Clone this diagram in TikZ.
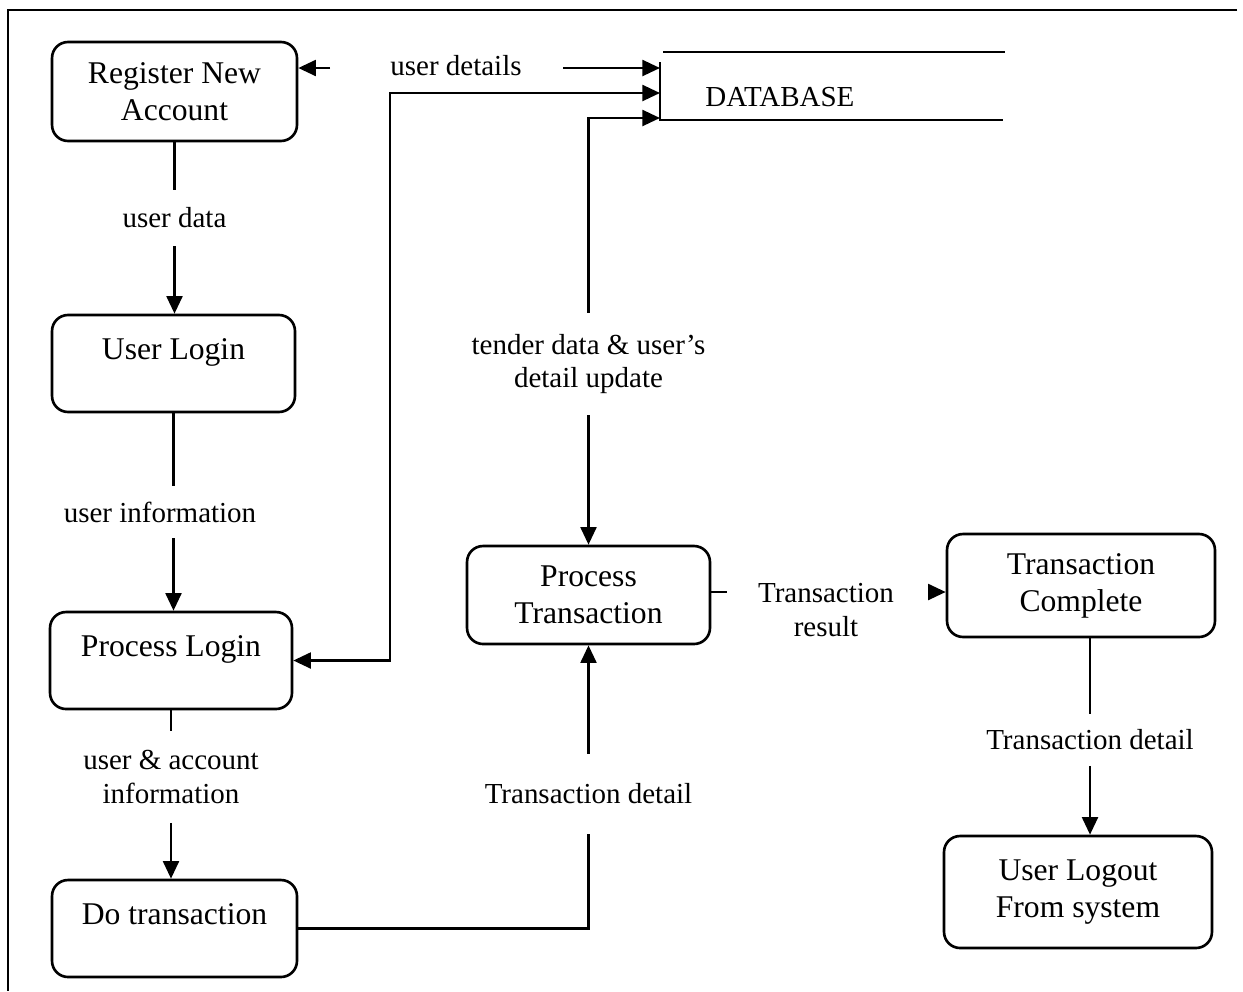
\documentclass[tikz,border=0pt]{standalone}
\usepackage{fontspec}
\setmainfont{Liberation Serif}
\usetikzlibrary{arrows.meta,calc}
\begin{document}
\begin{tikzpicture}[x=0.02cm,y=-0.02cm,
  box/.style={draw, line width=1.5pt, rounded corners=0.32cm, inner sep=0pt, align=center, font=\fontsize{18}{21}\selectfont},
  onebox/.style={box, text height=13.5pt, text depth=18.5pt},
  lbl/.style={inner sep=0pt, align=center, font=\fontsize{16.5}{19}\selectfont},
  conn/.style={line width=1.5pt},
  arr/.style={conn, -{Triangle[length=10pt,width=9pt]}},
  darr/.style={conn, {Triangle[length=10pt,width=9pt]}-{Triangle[length=10pt,width=9pt]}}
]
\useasboundingbox (0,0) rectangle (1243,991);
% frame
\coordinate (fr1) at (1237,10);
\coordinate (fr2) at (8,10);
\coordinate (fr3) at (8,991);
\draw[line width=1.5pt] (fr1) -- (fr2) -- (fr3);

% process boxes
\node[box, minimum width=4.9cm, minimum height=1.98cm] (reg) at (174.5,91.5) {Register New\\Account};
\node[onebox, minimum width=4.86cm, minimum height=1.94cm] (login) at (173.5,363.5) {User Login};
\node[onebox, minimum width=4.84cm, minimum height=1.94cm] (plogin) at (171,660.5) {Process Login};
\node[onebox, minimum width=4.9cm, minimum height=1.94cm] (dotx) at (174.5,928.5) {Do transaction};
\node[box, minimum width=4.86cm, minimum height=1.96cm] (ptx) at (588.5,595) {Process\\Transaction};
\node[box, minimum width=5.36cm, minimum height=2.06cm] (tcomp) at (1081,585.5) {Transaction\\Complete};
\node[box, minimum width=5.36cm, minimum height=2.24cm] (logout) at (1078,892) {User Logout\\From system};

% database store
\coordinate (dbtl) at (663,52);
\coordinate (dbtr) at (1005,52);
\coordinate (dbvt) at (660,62);
\coordinate (dbbl) at (660,120);
\coordinate (dbbr) at (1003,120);
\draw[conn] (dbtl) -- (dbtr);
\draw[conn] (dbvt) -- (dbbl) -- (dbbr);
\node[lbl, anchor=west] (dbtext) at (705,97) {DATABASE};
\coordinate (db1) at (660,68);
\coordinate (db2) at (660,93);
\coordinate (db3) at (660,118);

% user details
\node[lbl] (ud) at (456,66) {user details};
\coordinate (udL) at (330,68);
\coordinate (udR) at (563,68);
\draw[arr] (udL) -- (udL -| reg.east);
\draw[arr] (udR) -- (db1);

% process login <-> database
\coordinate (j1) at (390,93);
\draw[darr] (plogin.east) -| (j1) -- (db2);

% process transaction <-> database
\node[lbl, minimum height=2.04cm] (tdl) at (588.5,364) {tender data \& user's\\detail update};
\draw[arr] (tdl.north) |- (db3);
\draw[arr] (tdl.south) -- (ptx.north);

% left column
\node[lbl, minimum height=1.12cm] (ud2) at (174.5,218) {user data};
\draw[conn] (reg.south) -- (ud2.north);
\draw[arr] (ud2.south) -- (ud2.south |- login.north);

\node[lbl, minimum height=1.04cm] (ui) at (160,512) {user information};
\draw[conn] (login.south) -- (login.south |- ui.north);
\draw[arr] (login.south |- ui.south) -- (login.south |- plogin.north);

\node[lbl, minimum height=1.82cm] (ua) at (171,777) {user \& account\\information};
\draw[conn] (plogin.south) -- (ua.north);
\draw[arr] (ua.south) -- (ua.south |- dotx.north);

% do transaction -> process transaction
\node[lbl, minimum height=1.6cm] (td) at (588.5,794) {Transaction detail};
\draw[conn] (dotx.east) -| (td.south);
\draw[arr] (td.north) -- (ptx.south);

% process transaction -> transaction complete
\node[lbl] (tr) at (826,610) {Transaction\\result};
\coordinate (trL) at (727,592);
\coordinate (trR) at (930,592);
\draw[conn] (ptx.east |- trL) -- (trL);
\draw[arr] (trR) -- (trR -| tcomp.west);

% transaction complete -> logout
\node[lbl, minimum height=1.02cm] (td2) at (1090,740) {Transaction detail};
\draw[conn] (td2.north |- tcomp.south) -- (td2.north);
\draw[arr] (td2.south) -- (td2.south |- logout.north);
\end{tikzpicture}
\end{document}
